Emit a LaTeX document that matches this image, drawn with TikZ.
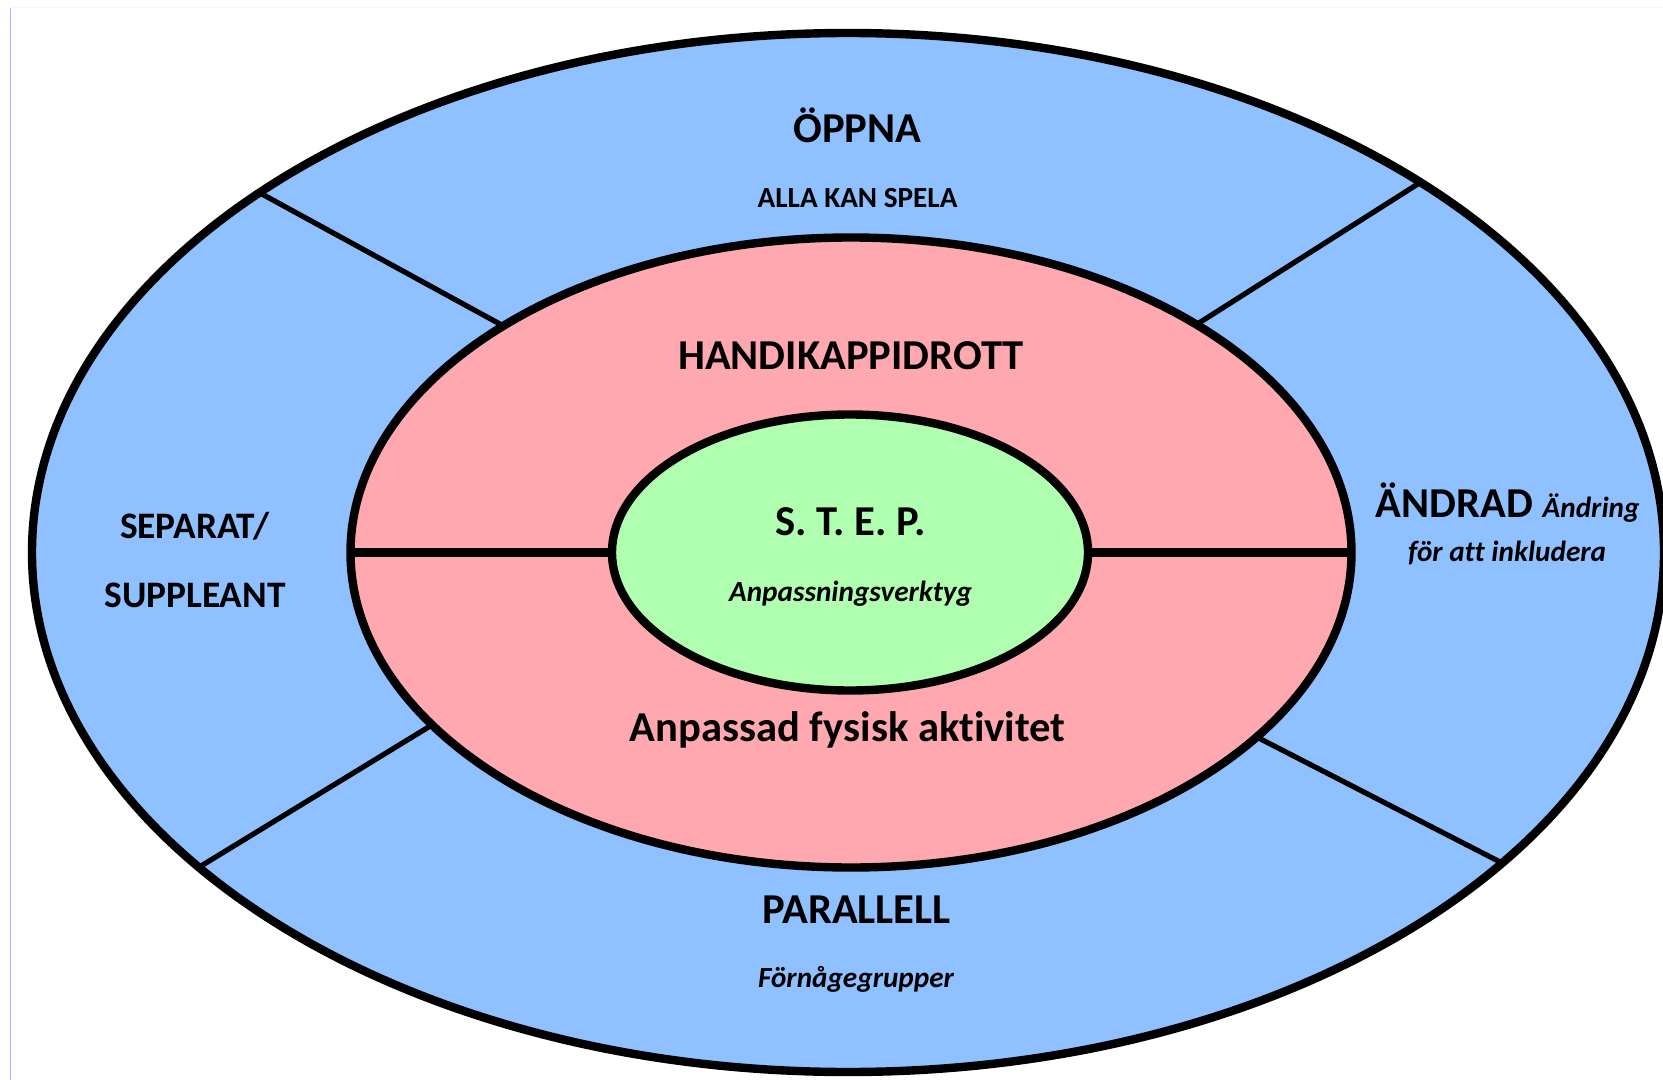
\documentclass[tikz,border=0pt]{standalone}
\usepackage{fontspec}
\setmainfont{Carlito}[Ligatures=NoCommon]
\definecolor{outerblue}{RGB}{143,192,255}
\definecolor{midpink}{RGB}{255,168,176}
\definecolor{innergreen}{RGB}{176,255,176}
\definecolor{edgeblue}{RGB}{176,176,255}
\tikzset{
  bigtxt/.style={font=\fontsize{21.3}{25}\selectfont\bfseries, inner sep=0pt, anchor=base},
  midtxt/.style={font=\fontsize{18.7}{22}\selectfont\bfseries, inner sep=0pt, anchor=base},
  smalltxt/.style={font=\fontsize{14.6}{17}\selectfont\bfseries, inner sep=0pt, anchor=base},
  smallit/.style={font=\fontsize{14.6}{17}\selectfont\bfseries\itshape, inner sep=0pt, anchor=base},
  ring/.style={line width=4.2pt},
  divider/.style={line width=2.6pt},
}
\begin{document}
\begin{tikzpicture}[x=0.5pt,y=-0.5pt]
\useasboundingbox (0,0) rectangle (1663,1080);
\fill[white] (0,0) rectangle (1663,1080);
\draw[black!4, line width=0.5pt] (10.5,8) -- (1663,8);
\draw[edgeblue, line width=0.6pt] (10.5,8) -- (10.5,1080);
% outer ring
\fill[outerblue] (848,552.5) ellipse [x radius=816, y radius=519.5];
\coordinate (ul1) at (260,193);
\coordinate (ul2) at (520,335);
\coordinate (ur1) at (1421,182);
\coordinate (ur2) at (1180,335);
\coordinate (ll1) at (201,866);
\coordinate (ll2) at (445,717);
\coordinate (lr1) at (1504,864);
\coordinate (lr2) at (1245,731);
\draw[divider] (ul1) -- (ul2);
\draw[divider] (ur1) -- (ur2);
\draw[divider] (ll1) -- (ll2);
\draw[divider] (lr1) -- (lr2);
\draw[ring] (848,552.5) ellipse [x radius=816, y radius=519.5];
% middle ring
\filldraw[ring, fill=midpink] (851,552.5) ellipse [x radius=500.5, y radius=315];
\coordinate (hl) at (351,552.5);
\coordinate (hr) at (1351,552.5);
\draw[ring] (hl) -- (hr);
% inner ellipse
\filldraw[ring, fill=innergreen] (850,552.5) ellipse [x radius=238, y radius=138];
% texts
\node[bigtxt] (oppna) at (857.5,143) {ÖPPNA};
\node[smalltxt] (alla) at (857.5,208) {ALLA KAN SPELA};
\node[bigtxt] (handi) at (851,369) {HANDIKAPPIDROTT};
\node[bigtxt] (step) at (850.6,535) {S. T. E. P.};
\node[smallit] (anpv) at (850.6,601) {Anpassningsverktyg};
\node[bigtxt] (anpf) at (847.5,741) {Anpassad fysisk aktivitet};
\node[bigtxt] (para) at (856.5,923) {PARALLELL};
\node[smallit] (forn) at (856,987) {Förnågegrupper};
\node[midtxt] (sep) at (194.6,538) {SEPARAT/};
\node[midtxt] (supp) at (195,607) {SUPPLEANT};
\node[bigtxt] (andr) at (1507.6,517) {ÄNDRAD {\fontsize{14.6}{17}\selectfont\itshape Ändring}};
\node[smallit] (inkl) at (1507,561) {för att inkludera};
\end{tikzpicture}
\end{document}
